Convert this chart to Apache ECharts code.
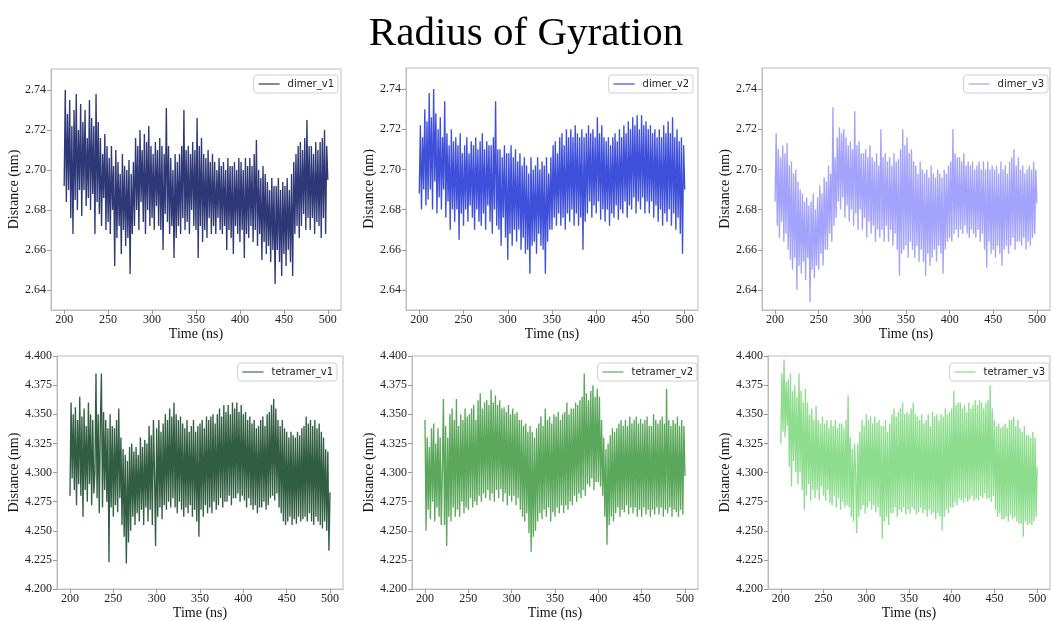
<!DOCTYPE html>
<html>
<head>
<meta charset="utf-8">
<title>Radius of Gyration</title>
<script src="https://cdn.jsdelivr.net/npm/echarts@6/dist/echarts.min.js"></script>
<style>
  html, body { margin: 0; padding: 0; background: #ffffff; }
  #chart { width: 1052px; height: 621px; }
</style>
</head>
<body>
<div id="chart"></div>
<script>
// Radius of gyration traces, sampled every 1.25 ns from 200 ns to 500 ns
// (one row below = 10 ns).
const TIME_START = 200;
const TIME_STEP = 1.25;

const timeTicks = [200, 250, 300, 350, 400, 450, 500];
const dimerTicks = [2.64, 2.66, 2.68, 2.70, 2.72, 2.74];
const tetramerTicks = [4.200, 4.225, 4.250, 4.275, 4.300, 4.325, 4.350, 4.375, 4.400];

const dimerV1 = [
  2.692, 2.740, 2.684, 2.728, 2.690, 2.735, 2.676, 2.722,
  2.668, 2.730, 2.685, 2.738, 2.680, 2.720, 2.690, 2.733,
  2.677, 2.724, 2.690, 2.730, 2.682, 2.716, 2.686, 2.735,
  2.680, 2.726, 2.688, 2.722, 2.668, 2.738, 2.684, 2.724,
  2.678, 2.716, 2.672, 2.708, 2.686, 2.718, 2.670, 2.712,
  2.674, 2.706, 2.668, 2.712, 2.680, 2.702, 2.652, 2.710,
  2.666, 2.704, 2.672, 2.698, 2.658, 2.708, 2.670, 2.702,
  2.662, 2.700, 2.666, 2.705, 2.648, 2.698, 2.668, 2.704,
  2.672, 2.716, 2.680, 2.712, 2.670, 2.720, 2.684, 2.710,
  2.674, 2.718, 2.668, 2.714, 2.680, 2.722, 2.672, 2.712,
  2.676, 2.708, 2.670, 2.714, 2.682, 2.710, 2.672, 2.716,
  2.670, 2.712, 2.660, 2.708, 2.678, 2.731, 2.674, 2.712,
  2.668, 2.706, 2.672, 2.700, 2.656, 2.708, 2.666, 2.704,
  2.672, 2.708, 2.668, 2.712, 2.676, 2.730, 2.670, 2.710,
  2.674, 2.712, 2.668, 2.708, 2.680, 2.714, 2.672, 2.710,
  2.670, 2.726, 2.656, 2.712, 2.672, 2.716, 2.664, 2.708,
  2.670, 2.706, 2.666, 2.710, 2.676, 2.704, 2.668, 2.708,
  2.672, 2.704, 2.668, 2.700, 2.676, 2.706, 2.670, 2.702,
  2.668, 2.704, 2.672, 2.700, 2.660, 2.706, 2.670, 2.702,
  2.666, 2.702, 2.658, 2.704, 2.672, 2.700, 2.668, 2.706,
  2.664, 2.704, 2.670, 2.700, 2.656, 2.706, 2.668, 2.702,
  2.666, 2.706, 2.672, 2.702, 2.664, 2.708, 2.670, 2.715,
  2.662, 2.700, 2.668, 2.696, 2.655, 2.702, 2.664, 2.698,
  2.658, 2.694, 2.662, 2.690, 2.654, 2.696, 2.660, 2.692,
  2.643, 2.692, 2.660, 2.696, 2.654, 2.690, 2.647, 2.694,
  2.658, 2.692, 2.652, 2.696, 2.660, 2.690, 2.654, 2.698,
  2.647, 2.704, 2.668, 2.708, 2.672, 2.712, 2.666, 2.714,
  2.672, 2.710, 2.678, 2.716, 2.670, 2.725, 2.676, 2.712,
  2.670, 2.712, 2.676, 2.708, 2.668, 2.714, 2.674, 2.710,
  2.672, 2.714, 2.666, 2.716, 2.676, 2.720, 2.668, 2.712,
  2.695
];

const dimerV2 = [
  2.688, 2.722, 2.680, 2.716, 2.690, 2.730, 2.682, 2.724,
  2.685, 2.738, 2.690, 2.726, 2.680, 2.740, 2.694, 2.728,
  2.678, 2.720, 2.686, 2.726, 2.680, 2.716, 2.690, 2.734,
  2.676, 2.718, 2.684, 2.712, 2.670, 2.720, 2.680, 2.714,
  2.674, 2.716, 2.680, 2.712, 2.665, 2.718, 2.678, 2.708,
  2.672, 2.712, 2.680, 2.716, 2.674, 2.708, 2.682, 2.714,
  2.676, 2.712, 2.670, 2.716, 2.680, 2.710, 2.674, 2.714,
  2.672, 2.718, 2.678, 2.710, 2.670, 2.714, 2.682, 2.712,
  2.674, 2.712, 2.668, 2.716, 2.680, 2.734, 2.672, 2.710,
  2.670, 2.710, 2.662, 2.706, 2.676, 2.712, 2.666, 2.708,
  2.655, 2.708, 2.668, 2.712, 2.662, 2.706, 2.670, 2.710,
  2.664, 2.704, 2.670, 2.708, 2.660, 2.702, 2.666, 2.706,
  2.658, 2.702, 2.660, 2.698, 2.648, 2.706, 2.662, 2.700,
  2.664, 2.702, 2.658, 2.706, 2.668, 2.700, 2.662, 2.704,
  2.660, 2.702, 2.648, 2.706, 2.664, 2.698, 2.670, 2.706,
  2.670, 2.712, 2.676, 2.714, 2.672, 2.708, 2.678, 2.716,
  2.672, 2.718, 2.676, 2.712, 2.670, 2.720, 2.678, 2.716,
  2.674, 2.720, 2.680, 2.716, 2.672, 2.722, 2.678, 2.718,
  2.672, 2.716, 2.676, 2.720, 2.660, 2.716, 2.674, 2.718,
  2.678, 2.722, 2.684, 2.718, 2.676, 2.720, 2.682, 2.716,
  2.678, 2.726, 2.684, 2.718, 2.675, 2.722, 2.680, 2.716,
  2.674, 2.714, 2.680, 2.716, 2.672, 2.712, 2.678, 2.716,
  2.676, 2.718, 2.682, 2.714, 2.675, 2.720, 2.680, 2.716,
  2.678, 2.722, 2.684, 2.718, 2.676, 2.724, 2.682, 2.720,
  2.680, 2.726, 2.686, 2.722, 2.678, 2.727, 2.684, 2.720,
  2.680, 2.727, 2.686, 2.722, 2.678, 2.724, 2.684, 2.720,
  2.678, 2.722, 2.684, 2.718, 2.676, 2.720, 2.682, 2.716,
  2.674, 2.720, 2.680, 2.716, 2.672, 2.722, 2.678, 2.718,
  2.674, 2.724, 2.680, 2.718, 2.672, 2.726, 2.678, 2.716,
  2.670, 2.720, 2.676, 2.714, 2.668, 2.716, 2.658, 2.712,
  2.690
];

const dimerV3 = [
  2.684, 2.718, 2.672, 2.710, 2.666, 2.706, 2.674, 2.712,
  2.664, 2.708, 2.668, 2.713, 2.660, 2.702, 2.655, 2.704,
  2.650, 2.698, 2.656, 2.700, 2.640, 2.694, 2.652, 2.690,
  2.648, 2.688, 2.654, 2.684, 2.645, 2.686, 2.656, 2.682,
  2.634, 2.684, 2.650, 2.688, 2.646, 2.680, 2.652, 2.686,
  2.650, 2.692, 2.658, 2.688, 2.652, 2.696, 2.660, 2.694,
  2.660, 2.702, 2.668, 2.698, 2.664, 2.731, 2.672, 2.706,
  2.676, 2.716, 2.684, 2.721, 2.680, 2.718, 2.686, 2.720,
  2.676, 2.716, 2.682, 2.712, 2.674, 2.714, 2.680, 2.710,
  2.672, 2.729, 2.678, 2.712, 2.670, 2.714, 2.680, 2.708,
  2.670, 2.708, 2.676, 2.710, 2.666, 2.706, 2.674, 2.712,
  2.668, 2.706, 2.672, 2.704, 2.664, 2.708, 2.670, 2.702,
  2.666, 2.720, 2.670, 2.706, 2.664, 2.708, 2.672, 2.704,
  2.664, 2.706, 2.670, 2.702, 2.662, 2.708, 2.668, 2.704,
  2.660, 2.705, 2.647, 2.710, 2.658, 2.720, 2.660, 2.712,
  2.662, 2.716, 2.656, 2.708, 2.664, 2.710, 2.660, 2.704,
  2.656, 2.702, 2.662, 2.698, 2.654, 2.704, 2.660, 2.700,
  2.654, 2.698, 2.647, 2.700, 2.658, 2.696, 2.652, 2.702,
  2.656, 2.698, 2.660, 2.696, 2.654, 2.700, 2.662, 2.698,
  2.658, 2.696, 2.648, 2.700, 2.660, 2.698, 2.664, 2.702,
  2.666, 2.704, 2.664, 2.720, 2.668, 2.708, 2.670, 2.706,
  2.666, 2.706, 2.670, 2.704, 2.668, 2.708, 2.672, 2.702,
  2.668, 2.704, 2.666, 2.702, 2.670, 2.704, 2.668, 2.700,
  2.666, 2.702, 2.670, 2.704, 2.664, 2.700, 2.668, 2.704,
  2.660, 2.700, 2.651, 2.704, 2.664, 2.700, 2.658, 2.702,
  2.660, 2.700, 2.656, 2.702, 2.662, 2.698, 2.658, 2.704,
  2.652, 2.700, 2.660, 2.702, 2.662, 2.698, 2.658, 2.704,
  2.662, 2.706, 2.666, 2.710, 2.660, 2.702, 2.664, 2.706,
  2.664, 2.700, 2.662, 2.702, 2.666, 2.698, 2.660, 2.700,
  2.664, 2.702, 2.662, 2.700, 2.666, 2.704, 2.668, 2.700,
  2.683
];

const tetramerV1 = [
  4.280, 4.360, 4.295, 4.350, 4.285, 4.356, 4.272, 4.345,
  4.290, 4.365, 4.280, 4.348, 4.262, 4.355, 4.285, 4.340,
  4.275, 4.360, 4.290, 4.350, 4.272, 4.345, 4.282, 4.300,
  4.385, 4.278, 4.350, 4.265, 4.340, 4.385, 4.270, 4.352,
  4.285, 4.345, 4.275, 4.338, 4.223, 4.350, 4.270, 4.340,
  4.262, 4.338, 4.272, 4.345, 4.266, 4.355, 4.278, 4.330,
  4.255, 4.320, 4.245, 4.315, 4.222, 4.310, 4.240, 4.322,
  4.250, 4.325, 4.262, 4.318, 4.255, 4.322, 4.265, 4.315,
  4.258, 4.330, 4.268, 4.322, 4.255, 4.328, 4.270, 4.325,
  4.258, 4.340, 4.268, 4.332, 4.255, 4.345, 4.300, 4.237,
  4.338, 4.262, 4.345, 4.270, 4.335, 4.260, 4.342, 4.272,
  4.350, 4.268, 4.345, 4.275, 4.355, 4.270, 4.348, 4.278,
  4.360, 4.270, 4.350, 4.265, 4.345, 4.275, 4.348, 4.268,
  4.342, 4.262, 4.338, 4.270, 4.345, 4.265, 4.335, 4.272,
  4.340, 4.262, 4.345, 4.268, 4.335, 4.258, 4.340, 4.245,
  4.342, 4.268, 4.345, 4.262, 4.338, 4.272, 4.348, 4.265,
  4.345, 4.270, 4.348, 4.265, 4.350, 4.275, 4.342, 4.268,
  4.350, 4.272, 4.355, 4.278, 4.348, 4.270, 4.358, 4.275,
  4.352, 4.275, 4.358, 4.280, 4.350, 4.272, 4.360, 4.278,
  4.355, 4.278, 4.360, 4.282, 4.352, 4.275, 4.358, 4.280,
  4.350, 4.276, 4.352, 4.270, 4.345, 4.278, 4.348, 4.272,
  4.342, 4.268, 4.345, 4.272, 4.338, 4.265, 4.340, 4.270,
  4.345, 4.270, 4.348, 4.275, 4.340, 4.268, 4.350, 4.272,
  4.352, 4.278, 4.358, 4.280, 4.363, 4.276, 4.355, 4.282,
  4.345, 4.270, 4.340, 4.265, 4.345, 4.258, 4.338, 4.255,
  4.335, 4.258, 4.330, 4.262, 4.335, 4.255, 4.332, 4.260,
  4.330, 4.256, 4.335, 4.262, 4.332, 4.258, 4.338, 4.260,
  4.340, 4.262, 4.348, 4.258, 4.342, 4.265, 4.345, 4.258,
  4.340, 4.255, 4.345, 4.262, 4.338, 4.258, 4.342, 4.255,
  4.335, 4.252, 4.330, 4.258, 4.320, 4.250, 4.318, 4.233,
  4.283
];

const tetramerV2 = [
  4.345, 4.250, 4.330, 4.268, 4.322, 4.260, 4.338, 4.275,
  4.342, 4.258, 4.325, 4.270, 4.338, 4.262, 4.330, 4.255,
  4.300, 4.363, 4.255, 4.340, 4.237, 4.330, 4.262, 4.350,
  4.258, 4.355, 4.270, 4.345, 4.262, 4.363, 4.268, 4.340,
  4.262, 4.350, 4.275, 4.345, 4.265, 4.355, 4.270, 4.348,
  4.268, 4.350, 4.278, 4.355, 4.270, 4.358, 4.275, 4.345,
  4.272, 4.362, 4.280, 4.368, 4.275, 4.355, 4.282, 4.360,
  4.278, 4.362, 4.285, 4.358, 4.276, 4.371, 4.282, 4.360,
  4.275, 4.366, 4.285, 4.358, 4.278, 4.362, 4.286, 4.355,
  4.275, 4.356, 4.282, 4.352, 4.272, 4.358, 4.280, 4.350,
  4.275, 4.355, 4.280, 4.350, 4.272, 4.352, 4.278, 4.345,
  4.268, 4.345, 4.262, 4.340, 4.258, 4.342, 4.265, 4.335,
  4.248, 4.340, 4.232, 4.335, 4.245, 4.330, 4.250, 4.338,
  4.258, 4.342, 4.265, 4.348, 4.260, 4.340, 4.268, 4.355,
  4.262, 4.345, 4.270, 4.348, 4.258, 4.342, 4.266, 4.350,
  4.262, 4.348, 4.270, 4.352, 4.265, 4.345, 4.272, 4.350,
  4.265, 4.352, 4.272, 4.360, 4.268, 4.350, 4.275, 4.355,
  4.272, 4.355, 4.280, 4.360, 4.275, 4.358, 4.282, 4.362,
  4.278, 4.365, 4.285, 4.385, 4.280, 4.368, 4.290, 4.362,
  4.288, 4.370, 4.295, 4.375, 4.285, 4.365, 4.292, 4.372,
  4.292, 4.365, 4.288, 4.345, 4.280, 4.330, 4.262, 4.320,
  4.238, 4.325, 4.255, 4.332, 4.262, 4.338, 4.258, 4.335,
  4.265, 4.338, 4.270, 4.342, 4.262, 4.345, 4.268, 4.340,
  4.266, 4.345, 4.272, 4.340, 4.264, 4.348, 4.270, 4.342,
  4.265, 4.345, 4.270, 4.348, 4.262, 4.342, 4.268, 4.346,
  4.262, 4.342, 4.270, 4.345, 4.264, 4.348, 4.268, 4.340,
  4.262, 4.340, 4.268, 4.350, 4.264, 4.345, 4.270, 4.342,
  4.264, 4.345, 4.270, 4.348, 4.262, 4.342, 4.268, 4.372,
  4.265, 4.345, 4.270, 4.340, 4.262, 4.345, 4.268, 4.342,
  4.266, 4.348, 4.262, 4.340, 4.268, 4.345, 4.264, 4.340,
  4.297
];

const tetramerV3 = [
  4.325, 4.385, 4.335, 4.397, 4.330, 4.378, 4.340, 4.380,
  4.305, 4.385, 4.288, 4.370, 4.310, 4.375, 4.300, 4.365,
  4.290, 4.385, 4.300, 4.370, 4.285, 4.360, 4.268, 4.372,
  4.280, 4.360, 4.290, 4.350, 4.276, 4.355, 4.285, 4.345,
  4.278, 4.357, 4.285, 4.345, 4.276, 4.342, 4.288, 4.348,
  4.280, 4.342, 4.276, 4.345, 4.285, 4.338, 4.274, 4.345,
  4.272, 4.340, 4.280, 4.345, 4.270, 4.338, 4.278, 4.342,
  4.268, 4.342, 4.275, 4.338, 4.270, 4.345, 4.272, 4.366,
  4.270, 4.330, 4.262, 4.320, 4.258, 4.325, 4.300, 4.248,
  4.325, 4.262, 4.335, 4.268, 4.345, 4.272, 4.340, 4.265,
  4.350, 4.270, 4.345, 4.275, 4.348, 4.268, 4.342, 4.272,
  4.348, 4.266, 4.343, 4.270, 4.345, 4.262, 4.340, 4.243,
  4.340, 4.258, 4.345, 4.262, 4.335, 4.255, 4.342, 4.265,
  4.350, 4.265, 4.355, 4.270, 4.348, 4.262, 4.352, 4.268,
  4.355, 4.266, 4.360, 4.270, 4.350, 4.264, 4.352, 4.268,
  4.350, 4.265, 4.355, 4.270, 4.360, 4.268, 4.350, 4.264,
  4.348, 4.266, 4.345, 4.270, 4.350, 4.265, 4.342, 4.268,
  4.345, 4.262, 4.350, 4.268, 4.340, 4.264, 4.352, 4.266,
  4.348, 4.260, 4.350, 4.265, 4.345, 4.262, 4.350, 4.250,
  4.348, 4.262, 4.355, 4.268, 4.350, 4.265, 4.352, 4.270,
  4.355, 4.270, 4.370, 4.275, 4.358, 4.272, 4.360, 4.278,
  4.360, 4.276, 4.355, 4.274, 4.358, 4.278, 4.352, 4.275,
  4.360, 4.277, 4.355, 4.280, 4.358, 4.276, 4.362, 4.278,
  4.358, 4.276, 4.362, 4.280, 4.360, 4.278, 4.355, 4.282,
  4.360, 4.277, 4.362, 4.278, 4.375, 4.275, 4.355, 4.280,
  4.345, 4.268, 4.340, 4.262, 4.342, 4.265, 4.338, 4.260,
  4.340, 4.260, 4.342, 4.262, 4.338, 4.258, 4.345, 4.264,
  4.345, 4.260, 4.348, 4.262, 4.340, 4.258, 4.345, 4.256,
  4.338, 4.256, 4.335, 4.245, 4.340, 4.258, 4.332, 4.255,
  4.332, 4.256, 4.330, 4.255, 4.335, 4.258, 4.330, 4.262,
  4.305
];

function toPoints(values) {
  return values.map((v, i) => [TIME_START + i * TIME_STEP, v]);
}

const SERIF = "'Liberation Serif', 'DejaVu Serif', serif";
const SANS = "'DejaVu Sans', sans-serif";
const FRAME = '#bcbcbc';

// One panel per trajectory: plot rectangle, legend placement, trace colour and
// the lighter swatch colour used in the legend.
const panels = [
  { name: 'dimer_v1', values: dimerV1, color: 'rgba(18,28,100,0.88)', swatch: 'rgba(20,30,110,0.72)',
    grid: { left: 51, top: 69, width: 290, height: 241 }, legend: { right: 714, top: 75 },
    kind: 'dimer', nameGap: 28 },
  { name: 'dimer_v2', values: dimerV2, color: 'rgba(25,45,210,0.84)', swatch: 'rgba(30,50,220,0.7)',
    grid: { left: 406, top: 68, width: 292, height: 242 }, legend: { right: 359, top: 75 },
    kind: 'dimer', nameGap: 26 },
  { name: 'dimer_v3', values: dimerV3, color: 'rgba(140,140,250,0.8)', swatch: 'rgba(140,140,250,0.65)',
    grid: { left: 762, top: 68, width: 288, height: 242 }, legend: { right: 4, top: 75 },
    kind: 'dimer', nameGap: 26 },
  { name: 'tetramer_v1', values: tetramerV1, color: 'rgba(20,72,40,0.88)', swatch: 'rgba(20,80,45,0.65)',
    grid: { left: 57, top: 356, width: 286, height: 237 }, legend: { right: 715, top: 363 },
    kind: 'tetramer', nameGap: 33 },
  { name: 'tetramer_v2', values: tetramerV2, color: 'rgba(60,150,60,0.84)', swatch: 'rgba(60,150,60,0.65)',
    grid: { left: 412, top: 356, width: 286, height: 237 }, legend: { right: 355, top: 363 },
    kind: 'tetramer', nameGap: 32 },
  { name: 'tetramer_v3', values: tetramerV3, color: 'rgba(120,215,120,0.84)', swatch: 'rgba(120,215,120,0.7)',
    grid: { left: 768, top: 356, width: 282, height: 237 }, legend: { right: 3, top: 363 },
    kind: 'tetramer', nameGap: 32 }
];

const grids = [], xAxes = [], yAxes = [], series = [], legends = [];

panels.forEach((p, i) => {
  grids.push(Object.assign({ show: true, borderColor: FRAME, borderWidth: 1, containLabel: false }, p.grid));

  xAxes.push({
    type: 'value', gridIndex: i, min: 185, max: 515,
    name: 'Time (ns)', nameLocation: 'middle', nameGap: 13,
    nameTextStyle: { fontFamily: SERIF, fontSize: 14, color: '#111' },
    axisLine: { show: true, lineStyle: { color: FRAME, width: 1 } },
    axisTick: { show: true, length: 4, lineStyle: { color: '#999' }, customValues: timeTicks },
    axisLabel: { fontFamily: SERIF, fontSize: 12, color: '#222', margin: 4, customValues: timeTicks,
                 formatter: v => String(Math.round(v)) },
    splitLine: { show: false }
  });

  const isDimer = p.kind === 'dimer';
  const ticks = isDimer ? dimerTicks : tetramerTicks;
  yAxes.push({
    type: 'value', gridIndex: i,
    min: isDimer ? 2.630 : 4.200, max: isDimer ? 2.7505 : 4.400,
    name: 'Distance (nm)', nameLocation: 'middle', nameGap: p.nameGap, nameRotate: 90,
    nameTextStyle: { fontFamily: SERIF, fontSize: 14, color: '#111' },
    axisLine: { show: true, lineStyle: { color: FRAME, width: 1 } },
    axisTick: { show: true, length: 4, lineStyle: { color: '#999' }, customValues: ticks },
    axisLabel: { fontFamily: SERIF, fontSize: 12, color: '#222', margin: 5, customValues: ticks,
                 formatter: v => v.toFixed(isDimer ? 2 : 3) },
    splitLine: { show: false }
  });

  series.push({
    type: 'line', name: p.name, xAxisIndex: i, yAxisIndex: i,
    data: toPoints(p.values),
    showSymbol: false, symbol: 'none',
    color: p.color,
    lineStyle: { width: 1.35, color: p.color },
    emphasis: { disabled: true },
    animation: false
  });

  legends.push({
    data: [{ name: p.name, itemStyle: { color: p.swatch } }],
    right: p.legend.right, top: p.legend.top,
    icon: 'rect', itemWidth: 21, itemHeight: 1.5,
    padding: [4, 4, 4, 5],
    borderColor: '#d2d2d2', borderWidth: 1, borderRadius: 3,
    backgroundColor: 'rgba(255,255,255,0.85)',
    selectedMode: false,
    textStyle: { fontFamily: SANS, fontSize: 10, color: '#222', padding: [0, 0, 0, 3] }
  });
});

const chart = echarts.init(document.getElementById('chart'), null, { renderer: 'canvas' });
chart.setOption({
  backgroundColor: '#ffffff',
  animation: false,
  title: {
    text: 'Radius of Gyration', left: 'center', top: 9,
    textStyle: { fontFamily: SERIF, fontSize: 41, fontWeight: 'normal', color: '#000' }
  },
  grid: grids,
  xAxis: xAxes,
  yAxis: yAxes,
  legend: legends,
  series: series
});
</script>
</body>
</html>
